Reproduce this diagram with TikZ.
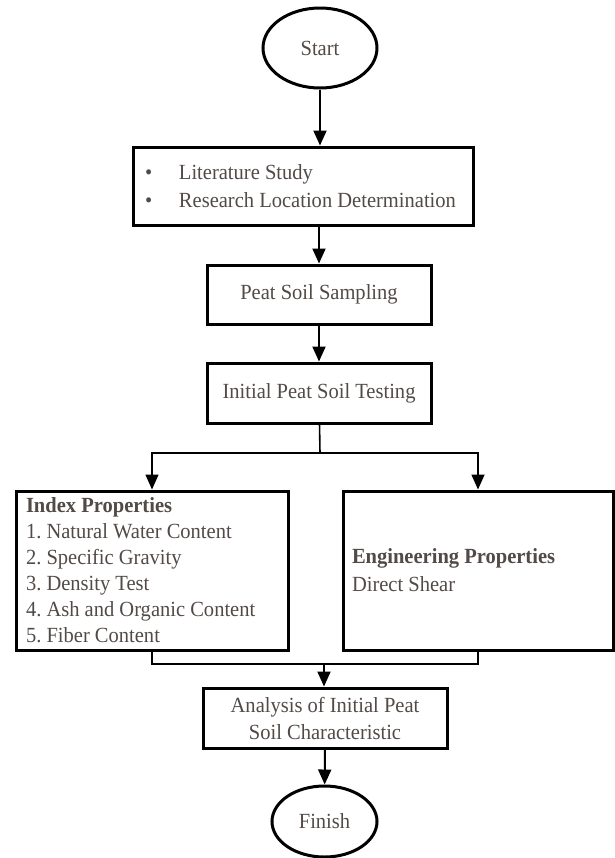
\documentclass[tikz,border=0pt]{standalone}
\usepackage{fontspec}
\setmainfont{Liberation Serif}[FakeStretch=0.95]
\usetikzlibrary{shapes.geometric,arrows.meta}
\definecolor{txtgray}{RGB}{82,74,70}

\begin{document}
\frenchspacing
\begin{tikzpicture}[x=0.5pt,y=-0.5pt,
        font=\fontsize{10.8}{13}\selectfont,
        box/.style={draw,line width=1.5pt,text=txtgray,inner sep=0pt},
        listbox/.style={box,text width=#1,align=left,execute at begin node={\spaceskip=0pt\xspaceskip=0pt}},
        term/.style={ellipse,draw,line width=1.5pt,text=txtgray,inner sep=0pt},
        arr/.style={line width=1pt,-{Triangle[length=7.5pt,width=6.5pt]}},
        thinline/.style={line width=0.8pt}]
        \useasboundingbox (0,0) rectangle (615,858);
        \node[term,minimum width=57pt,minimum height=40pt] (start) at (320,48) {Start};
        \node[listbox=158pt,minimum width=170pt,minimum height=39pt,
            font=\fontsize{10.8}{14}\selectfont] (lit) at (303,186)
            {\mbox{\makebox[17pt][l]{\textbullet}Literature Study}\\\mbox{\makebox[17pt][l]{\textbullet}Research Location Determination}};
        \node[box,minimum width=112pt,minimum height=29.5pt] (samp) at (319,294.5) {Peat Soil Sampling};
        \node[box,minimum width=112pt,minimum height=30pt] (test) at (319,393) {Initial Peat Soil Testing};
        \node[listbox=126pt,minimum width=136pt,minimum height=79.5pt] (index) at (152,570.5)
            {\textbf{Index Properties}\\1. Natural Water Content\\2. Specific Gravity\\3. Density Test\\4. Ash and Organic Content\\5. Fiber Content};
        \node[listbox=126pt,minimum width=135pt,minimum height=79.5pt,
            font=\fontsize{10.8}{14}\selectfont] (eng) at (478,570.5)
            {\textbf{Engineering Properties}\\Direct Shear};
        \node[box,minimum width=122pt,minimum height=30pt,align=center,
            font=\fontsize{10.8}{13.5}\selectfont] (anal) at (325,718)
            {Analysis of Initial Peat\\Soil Characteristic};
        \node[term,minimum width=52.5pt,minimum height=35.5pt] (finish) at (324.5,821.5) {Finish};
        \coordinate (split) at (320,453);
        \coordinate (merge) at (324,664);
        \draw[arr] (start) -- (start |- lit.north);
        \draw[arr] (samp |- lit.south) -- (samp);
        \draw[arr] (samp) -- (test);
        \draw[thinline] (test) -- (split);
        \draw[arr,line width=0.8pt] (split) -| (index);
        \draw[arr,line width=0.8pt] (split) -| (eng);
        \draw[thinline] (index) |- (merge) -| (eng);
        \draw[arr] (merge) -- (merge |- anal.north);
        \draw[arr] (anal) -- (finish);
    \end{tikzpicture}
\end{document}
